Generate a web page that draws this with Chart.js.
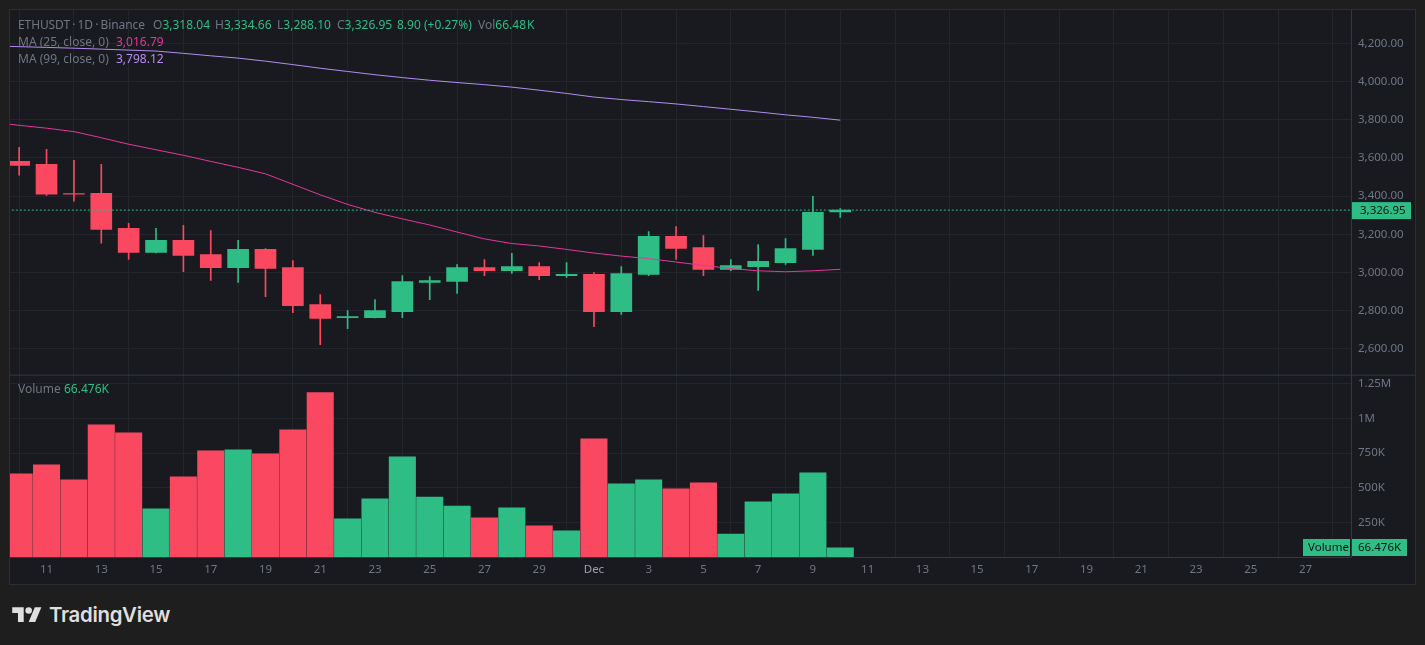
<!DOCTYPE html>
<html>
<head>
<meta charset="utf-8">
<title>ETHUSDT 1D</title>
<script src="https://cdn.jsdelivr.net/npm/chart.js@4/dist/chart.umd.min.js"></script>
<style>
  html, body { margin: 0; padding: 0; background: #1e1e1e; width: 1425px; height: 645px; overflow: hidden; }
  body { font-family: "Noto Sans", sans-serif; position: relative; }
  #panel { position: absolute; left: 9px; top: 9px; width: 1405px; height: 574px; border: 1px solid #2c2e30; background: #181a20; }
  #myChart { position: absolute; left: 10px; top: 10px; }
  .t { position: absolute; font-size: 12px; line-height: 16px; color: #6f7682; white-space: nowrap; }
  .g { color: #2ebd85; }
  #logo { position: absolute; left: 12px; top: 604px; }
  #brand { position: absolute; left: 49px; top: 602px; font: 600 20.4px/26px Inter, sans-serif; color: #dfdfdf; letter-spacing: -0.3px; }
</style>
</head>
<body>
<div id="panel"></div>
<canvas id="myChart" width="1405" height="575"></canvas>

<div class="t" style="left:18px;top:17px;word-spacing:-0.8px;letter-spacing:-0.1px">ETHUSDT · 1D · Binance</div>
<div class="t" style="left:153px;top:17px">O<span class="g">3,318.04</span></div>
<div class="t" style="left:215px;top:17px">H<span class="g">3,334.66</span></div>
<div class="t" style="left:277px;top:17px">L<span class="g">3,288.10</span></div>
<div class="t" style="left:337px;top:17px">C<span class="g">3,326.95</span></div>
<div class="t g" style="left:397px;top:17px">8.90 (+0.27%)</div>
<div class="t" style="left:478px;top:17px;word-spacing:-2px">Vol<span class="g">66.48 K</span></div>
<div class="t" style="left:18px;top:34px">MA (25, close, 0)</div>
<div class="t" style="left:116px;top:34px;color:#e5379a">3,016.79</div>
<div class="t" style="left:18px;top:51px">MA (99, close, 0)</div>
<div class="t" style="left:116px;top:51px;color:#b48cf2">3,798.12</div>
<div class="t" style="left:18px;top:381px">Volume</div>
<div class="t g" style="left:64px;top:381px">66.476K</div>

<svg id="logo" width="30" height="23" viewBox="0 0 36 28" fill="#dfdfdf">
  <path d="M14 22H7V11H0V4h14v18zM28 22h-8l7.5-18h8L28 22z"/><circle cx="20" cy="8" r="4"/>
</svg>
<div id="brand">TradingView</div>

<script>
// daily candles, 10 Nov to 10 Dec
var opens = [3582,3567,3413,3415,3231,3105,3168,3094,3026,3121,3026,2832,2764,2764,2795,2948,2953,3026,3010,3031,2984,2990,2795,2990,3189,3131,3016,3031,3052,3121,3318.04];
var highs = [3656,3645,3588,3567,3257,3231,3247,3220,3168,3126,3063,2885,2801,2858,2984,2979,3042,3068,3100,3052,3052,3000,3031,3215,3241,3194,3068,3147,3178,3399,3334.66];
var lows = [3510,3404,3374,3154,3068,3103,3005,2958,2948,2874,2790,2622,2706,2762,2764,2858,2890,2984,2995,2963,2974,2717,2780,2984,3068,2984,3010,2906,3042,3089,3288.10];
var closes = [3561,3411,3410,3226,3105,3168,3089,3026,3121,3021,2827,2759,2769,2801,2953,2958,3026,3010,3031,2984,2990,2795,2995,3189,3126,3016,3037,3058,3126,3315,3326.95];
var volumes = [600000,665000,556000,954000,896000,347000,578000,766000,773000,744000,918000,1185000,275000,419000,722000,433000,368000,282000,354000,224000,188000,853000,527000,556000,491000,535000,166000,397000,455000,607000,66476];

// moving averages, these start one day earlier (9 Nov) so the line runs off the left edge
var ma25 = [3787,3771,3756,3738,3706,3672,3643,3614,3582,3551,3517,3462,3407,3357,3315,3281,3249,3212,3176,3152,3139,3121,3102,3086,3073,3055,3037,3021,3009,3004,3009,3016.79];
var ma99 = [4187,4183,4179,4175,4170,4165,4160,4148,4135,4123,4107,4089,4070,4053,4036,4021,4007,3995,3984,3971,3955,3938,3919,3906,3895,3883,3869,3855,3841,3826,3813,3798.12];

var priceTicks = [2600,2800,3000,3200,3400,3600,3800,4000,4200];
var volumeTicks = [250000,500000,750000,1000000,1250000];
var volumeLabels = ['250K','500K','750K','1M','1.25M'];
var dayTicks = [1,3,5,7,9,11,13,15,17,19,21,23,25,27,29,31,33,35,37,39,41,43,45,47];
var dayLabels = ['11','13','15','17','19','21','23','25','27','29','Dec','3','5','7','9','11','13','15','17','19','21','23','25','27'];

var GREEN = '#2ebd85', RED = '#fa4860', GRID = '#22262b', AXIS = '#343840', LABEL = '#6f7682';

function colorOf(i){ return closes[i] >= opens[i] ? GREEN : RED; }
var candleColors = closes.map(function(c, i){ return colorOf(i); });
var last = closes.length - 1;

// small plugin for the pane separator and the tags on the right axis
var tagsPlugin = {
  id: 'tags',
  afterDraw: function(chart){
    var c = chart.ctx, y = chart.scales.y, yv = chart.scales.yv, right = chart.chartArea.right;
    c.save();
    c.strokeStyle = AXIS;
    c.beginPath(); c.moveTo(0, yv.top + 0.5); c.lineTo(chart.width, yv.top + 0.5); c.stroke();
    c.font = '11.5px "Noto Sans"';
    c.textBaseline = 'middle';
    c.fillStyle = GREEN;
    var py = y.getPixelForValue(closes[last]);
    c.fillRect(right + 1, py - 8, 59, 17);
    c.fillStyle = '#0c1014';
    c.fillText('3,326.95', right + 9, py + 0.5);
    c.fillStyle = GREEN;
    c.fillRect(right - 48, yv.bottom - 18, 47, 17);
    c.fillRect(right + 1, yv.bottom - 18, 55, 17);
    c.fillStyle = '#0c1014';
    c.fillText('Volume', right - 43, yv.bottom - 9);
    c.fillText('66.476K', right + 7, yv.bottom - 9);
    c.restore();
  }
};

// right axes keep a fixed width and reserve no room for overflowing labels
function fitRightAxis(s){
  s.width = 64;
  s.paddingTop = 0;
  s.paddingBottom = 0;
}

window.onload = function(){
  var ctx = document.getElementById('myChart');
  new Chart(ctx, {
    type: 'bar',
    plugins: [tagsPlugin],
    data: {
      datasets: [{
        type: 'line', label: 'MA 25', yAxisID: 'y', order: 1,
        data: ma25.map(function(v, i){ return {x: i - 1, y: v}; }),
        borderColor: '#e5379a', borderWidth: 1, pointRadius: 0, tension: 0
      }, {
        type: 'line', label: 'MA 99', yAxisID: 'y', order: 1,
        data: ma99.map(function(v, i){ return {x: i - 1, y: v}; }),
        borderColor: '#b48cf2', borderWidth: 1, pointRadius: 0, tension: 0
      }, {
        type: 'line', label: 'Last', yAxisID: 'y', order: 0,
        data: [{x: -1, y: closes[last]}, {x: 50, y: closes[last]}],
        borderColor: GREEN, borderWidth: 1, borderDash: [2, 2], pointRadius: 0
      }, {
        label: 'Body', yAxisID: 'y', order: 2, grouped: false, barThickness: 21,
        data: closes.map(function(c, i){ return {x: i, y: [opens[i], c]}; }),
        backgroundColor: candleColors, borderSkipped: false
      }, {
        label: 'Wick', yAxisID: 'y', order: 3, grouped: false, barThickness: 1,
        data: closes.map(function(c, i){ return {x: i, y: [lows[i], highs[i]]}; }),
        backgroundColor: candleColors, borderSkipped: false
      }, {
        label: 'Volume', yAxisID: 'yv', order: 4, grouped: false, barThickness: 26.4,
        data: volumes.map(function(v, i){ return {x: i, y: v}; }),
        backgroundColor: candleColors
      }]
    },
    options: {
      responsive: false,
      animation: false,
      devicePixelRatio: 1,
      layout: {padding: 0},
      plugins: {legend: {display: false}, tooltip: {enabled: false}},
      scales: {
        x: {
          type: 'linear', min: -0.335, max: 48.66, offset: false,
          afterBuildTicks: function(s){ s.ticks = dayTicks.map(function(v){ return {value: v}; }); },
          afterFit: function(s){ s.height = 28; },
          grid: {color: GRID, drawTicks: false},
          border: {color: AXIS},
          ticks: {
            autoSkip: false, maxRotation: 0, padding: 6,
            font: {family: 'Noto Sans', size: 11.5},
            color: function(c){ return dayLabels[c.index] === 'Dec' ? '#9aa0ab' : LABEL; },
            callback: function(v, i){ return dayLabels[i]; }
          }
        },
        y: {
          type: 'linear', position: 'right', stack: 'right', stackWeight: 2, min: 2465, max: 4375,
          afterBuildTicks: function(s){ s.ticks = priceTicks.map(function(v){ return {value: v}; }); },
          afterFit: fitRightAxis,
          grid: {color: GRID, drawTicks: false},
          border: {color: AXIS},
          ticks: {
            padding: 7, font: {family: 'Noto Sans', size: 11.5}, color: LABEL,
            callback: function(v){ return v.toLocaleString('en-US', {minimumFractionDigits: 2}); }
          }
        },
        yv: {
          type: 'linear', position: 'right', stack: 'right', stackWeight: 1, min: 0, max: 1315000,
          afterBuildTicks: function(s){ s.ticks = volumeTicks.map(function(v){ return {value: v}; }); },
          afterFit: fitRightAxis,
          grid: {color: GRID, drawTicks: false},
          border: {color: AXIS},
          ticks: {
            padding: 7, font: {family: 'Noto Sans', size: 11.5}, color: LABEL,
            callback: function(v, i){ return volumeLabels[i]; }
          }
        }
      }
    }
  });
};
</script>
</body>
</html>
